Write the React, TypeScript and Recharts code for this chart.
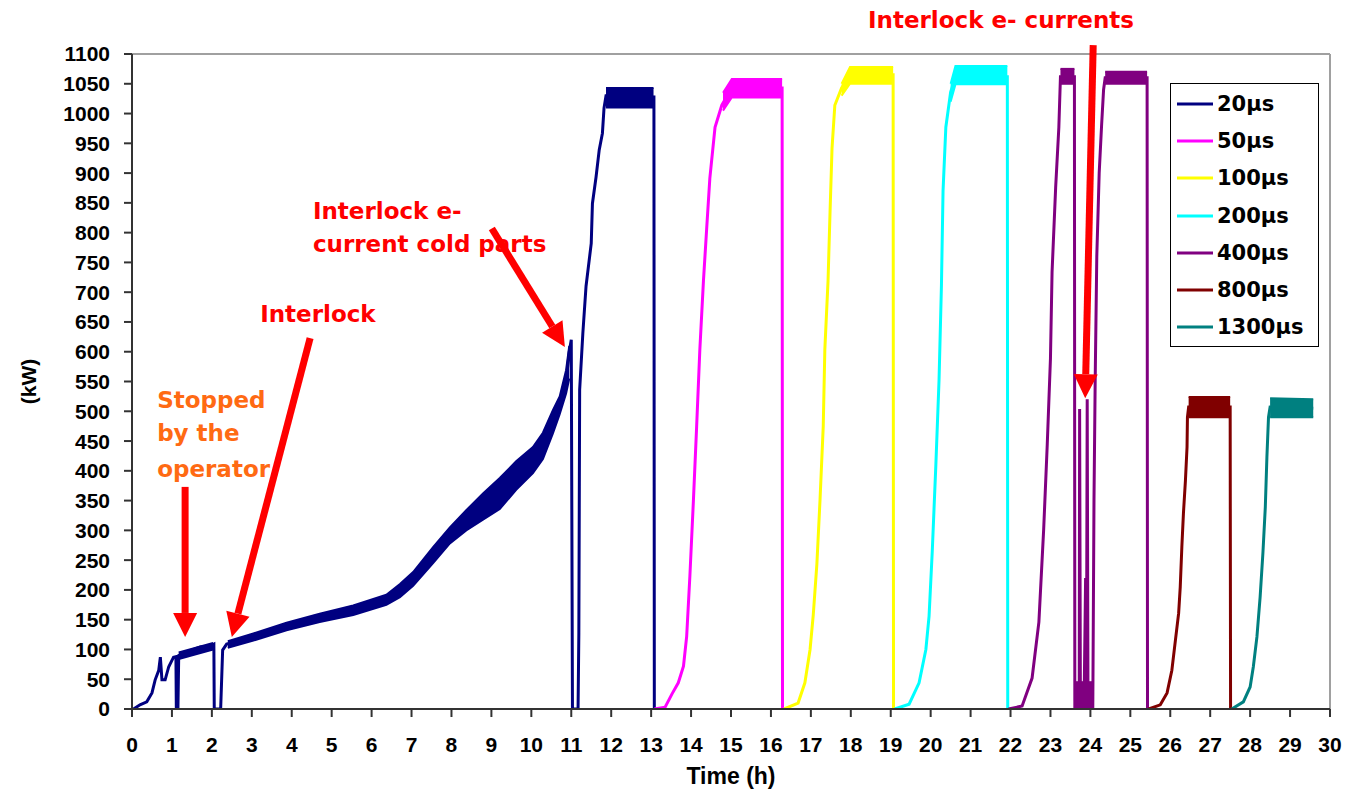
import {
  ComposedChart,
  Line,
  Area,
  XAxis,
  YAxis,
  Legend,
  ReferenceLine,
  ReferenceDot,
} from 'recharts';

// time (h) / power (kW) pairs
const s20: [number, number][] = [
  [0, 0], [0.04, 0], [0.2, 7], [0.37, 12], [0.5, 27], [0.58, 49], [0.67, 65], [0.71, 87],
  [0.75, 49], [0.83, 49], [0.92, 71], [1.04, 87], [1.1, 88], [1.11, 0], [1.15, 0], [1.17, 90],
  [1.37, 96], [1.71, 104], [1.96, 106], [2.05, 109], [2.06, 0], [2.22, 0], [2.27, 99], [2.37, 109],
  [3.04, 121], [3.87, 138], [4.7, 153], [5.54, 166], [6.37, 183], [6.71, 198], [7.04, 217],
  [7.21, 228], [7.54, 258], [7.96, 292], [8.37, 318], [8.79, 340], [9.21, 362], [9.62, 392],
  [10.04, 418], [10.29, 442], [10.54, 483], [10.71, 510], [10.87, 550], [10.95, 600], [11.0, 620],
  [11.03, 0], [11.17, 0], [11.19, 128], [11.21, 536], [11.29, 631], [11.37, 710], [11.5, 782],
  [11.53, 849], [11.62, 893], [11.7, 939], [11.78, 967], [11.82, 1009], [11.87, 1030],
  [13.07, 1028], [13.08, 0],
];
const s50: [number, number][] = [
  [13.08, 0], [13.35, 3], [13.52, 25], [13.68, 44], [13.81, 72], [13.89, 122], [13.97, 223],
  [14.06, 352], [14.14, 475], [14.22, 604], [14.31, 719], [14.39, 806], [14.47, 891], [14.6, 977],
  [14.77, 1014], [15.02, 1043], [16.28, 1043], [16.29, 0],
];
const s100: [number, number][] = [
  [16.33, 0], [16.68, 10], [16.85, 44], [16.98, 100], [17.06, 158], [17.15, 243], [17.23, 352],
  [17.31, 475], [17.35, 604], [17.43, 719], [17.48, 834], [17.53, 942], [17.6, 1014],
  [17.77, 1043], [17.98, 1065], [19.06, 1065], [19.07, 0],
];
const s200: [number, number][] = [
  [19.1, 0], [19.46, 8], [19.71, 44], [19.88, 100], [19.96, 156], [20.04, 265], [20.13, 410],
  [20.21, 553], [20.27, 712], [20.31, 870], [20.38, 977], [20.5, 1036], [20.62, 1062],
  [21.92, 1062], [21.93, 0],
];
const s400: [number, number][] = [
  [21.95, 0], [22.29, 5], [22.54, 52], [22.71, 146], [22.83, 302], [22.92, 445], [23.0, 589],
  [23.04, 734], [23.13, 876], [23.21, 977], [23.25, 1062], [23.6, 1062], [23.61, 0], [23.66, 40],
  [23.69, 0], [23.72, 0], [23.73, 504], [23.75, 0], [23.8, 30], [23.84, 0], [23.88, 220],
  [23.9, 0], [23.92, 520], [23.94, 0], [23.98, 40], [24.03, 0], [24.06, 0], [24.09, 352],
  [24.12, 553], [24.16, 760], [24.22, 900], [24.28, 980], [24.33, 1040], [24.37, 1060],
  [25.42, 1060], [25.43, 0],
];
const s800: [number, number][] = [
  [25.46, 0], [25.75, 7], [25.92, 27], [26.04, 65], [26.13, 116], [26.21, 161], [26.25, 205],
  [26.29, 272], [26.33, 329], [26.38, 384], [26.42, 440], [26.43, 490], [26.46, 507],
  [27.5, 507], [27.51, 0],
];
const s1300: [number, number][] = [
  [27.54, 0], [27.83, 12], [28.0, 37], [28.08, 71], [28.17, 121], [28.25, 188], [28.32, 262],
  [28.38, 339], [28.42, 423], [28.46, 490], [28.5, 507], [29.58, 505],
];

// noisy stretches: time, low, high
const band20a: [number, number, number][] = [[1.17, 84, 95], [2.03, 100, 111]];
const band20b: [number, number, number][] = [
  [2.4, 103, 114], [3.04, 115, 127], [3.87, 132, 145], [4.7, 146, 160], [5.54, 158, 174],
  [6.37, 175, 192], [6.71, 188, 210], [7.04, 207, 230], [7.54, 245, 272], [7.96, 278, 305],
  [8.37, 300, 334], [8.79, 318, 362], [9.21, 336, 388], [9.62, 368, 416], [10.04, 396, 440],
  [10.29, 420, 464], [10.54, 463, 502], [10.71, 495, 525], [10.87, 530, 569], [10.95, 555, 610],
];
const band20c: [number, number, number][] = [[11.87, 1010, 1043], [13.06, 1010, 1043]];
const band50: [number, number, number][] = [[14.8, 1005, 1035], [15.02, 1027, 1058], [16.28, 1027, 1058]];
const band100: [number, number, number][] = [[17.77, 1030, 1050], [17.98, 1050, 1078], [19.06, 1050, 1078]];
const band200: [number, number, number][] = [[20.5, 1020, 1050], [20.62, 1049, 1080], [21.92, 1049, 1080]];
const band400a: [number, number, number][] = [[23.25, 1050, 1075], [23.6, 1050, 1075]];
const band400b: [number, number, number][] = [[23.6, 0, 45], [24.05, 0, 45]];
const band400c: [number, number, number][] = [[24.37, 1050, 1070], [25.42, 1050, 1070]];
const band800: [number, number, number][] = [[26.46, 490, 524], [27.5, 490, 524]];
const band1300: [number, number, number][] = [[28.5, 490, 522], [29.58, 490, 520]];

const seriesNames = ['20µs', '50µs', '100µs', '200µs', '400µs', '800µs', '1300µs'];
const seriesColors = ['#000080', '#FF00FF', '#FFFF00', '#00FFFF', '#800080', '#800000', '#008080'];
const seriesPoints = [s20, s50, s100, s200, s400, s800, s1300];
const seriesBands = [
  [band20a, band20b, band20c], [band50], [band100], [band200],
  [band400a, band400b, band400c], [band800], [band1300],
];

const timeTicks = [0, 1, 2, 3, 4, 5, 6, 7, 8, 9, 10, 11, 12, 13, 14, 15, 16, 17, 18, 19, 20, 21, 22, 23, 24, 25, 26, 27, 28, 29, 30];
const powerTicks = [0, 50, 100, 150, 200, 250, 300, 350, 400, 450, 500, 550, 600, 650, 700, 750, 800, 850, 900, 950, 1000, 1050, 1100];

// annotations (data coordinates)
const noteTexts = ['Interlock e- currents', 'Interlock e-', 'current cold parts', 'Interlock', 'Stopped', 'by the', 'operator'];
const noteTimes = [18.43, 4.53, 4.53, 3.21, 0.63, 0.63, 0.63];
const notePowers = [1144, 823, 768, 650, 506, 450, 390];
const noteColors = ['#FF0000', '#FF0000', '#FF0000', '#FF0000', '#FF6A13', '#FF6A13', '#FF6A13'];

const arrows: [number, number, number, number][] = [
  [1.33, 373, 1.33, 121],
  [4.46, 623, 2.5, 121],
  [9.01, 807, 10.84, 608],
  [24.07, 1115, 23.87, 522],
];

const toRows = (pts: [number, number][]) => pts.map(([t, kw]) => ({ t, kw }));
const toBandRows = (pts: [number, number, number][]) => pts.map(([t, lo, hi]) => ({ t, range: [lo, hi] }));

const tickFont = { fill: '#000', fontSize: 21, fontWeight: 'bold', fontFamily: '"Liberation Sans", Arial, sans-serif' };
const noteFont = '"DejaVu Sans", Verdana, sans-serif';

const ArrowShape = (p: any) => {
  const { x1, y1, x2, y2 } = p;
  const dx = x2 - x1;
  const dy = y2 - y1;
  const len = Math.hypot(dx, dy) || 1;
  const ux = dx / len;
  const uy = dy / len;
  const head = 24;
  const half = 12;
  const bx = x2 - ux * head;
  const by = y2 - uy * head;
  return (
    <g>
      <line x1={x1} y1={y1} x2={bx} y2={by} stroke="#FF0000" strokeWidth={7} />
      <polygon
        points={`${x2},${y2} ${bx - uy * half},${by + ux * half} ${bx + uy * half},${by - ux * half}`}
        fill="#FF0000"
      />
    </g>
  );
};

const renderLegend = () => (
  <div
    style={{
      border: '1.5px solid #000',
      background: '#fff',
      width: 149,
      height: 264,
      boxSizing: 'border-box',
      paddingTop: 1,
    }}
  >
    {seriesNames.map((name, i) => (
      <div key={name} style={{ display: 'flex', alignItems: 'center', height: 37.3 }}>
        <svg width={45} height={10} style={{ display: 'block' }}>
          <line x1={6} x2={42} y1={5} y2={5} stroke={seriesColors[i]} strokeWidth={3} />
        </svg>
        <span style={{ fontFamily: noteFont, fontWeight: 'bold', fontSize: 21, marginLeft: 1, color: '#000' }}>
          {name}
        </span>
      </div>
    ))}
  </div>
);

const YLabel = (props: any) => {
  const { viewBox } = props;
  const cx = 28;
  const cy = viewBox.y + viewBox.height / 2;
  return (
    <text
      x={cx}
      y={cy}
      transform={`rotate(-90, ${cx}, ${cy})`}
      textAnchor="middle"
      dominantBaseline="central"
      style={{ fontSize: 21, fontWeight: 'bold', fontFamily: '"Liberation Sans", Arial, sans-serif', fill: '#000' }}
    >
      (kW)
    </text>
  );
};

export default function App() {
  return (
    <div style={{ position: 'relative', width: 1350, height: 792, background: '#fff' }}>
      <style>{'body{margin:0;background:#fff}'}</style>
      <ComposedChart width={1350} height={792} margin={{ top: 54, right: 20, bottom: 0, left: 0 }}>
        <XAxis
          dataKey="t"
          type="number"
          domain={[0, 30]}
          ticks={timeTicks}
          interval={0}
          allowDataOverflow
          height={83}
          tickSize={8}
          tickMargin={20}
          tick={tickFont}
          axisLine={{ stroke: '#333', strokeWidth: 2 }}
          tickLine={{ stroke: '#333', strokeWidth: 2 }}
          label={{
            value: 'Time (h)',
            position: 'insideBottom',
            offset: 8,
            style: { fontSize: 23, fontWeight: 'bold', fontFamily: '"Liberation Sans", Arial, sans-serif', fill: '#000' },
          }}
        />
        <YAxis
          type="number"
          domain={[0, 1100]}
          ticks={powerTicks}
          interval={0}
          allowDataOverflow
          width={132}
          tickSize={8}
          tickMargin={14}
          tick={tickFont}
          axisLine={{ stroke: '#333', strokeWidth: 2 }}
          tickLine={{ stroke: '#333', strokeWidth: 2 }}
          label={<YLabel />}
        />
        <ReferenceLine y={1100} stroke="#a0a0a0" strokeWidth={2} />
        <ReferenceLine x={30} stroke="#a0a0a0" strokeWidth={2} />
        {seriesBands.map((bands, i) =>
          bands.map((b, j) => (
            <Area
              key={`band-${i}-${j}`}
              data={toBandRows(b)}
              dataKey="range"
              type="linear"
              stroke={seriesColors[i]}
              strokeWidth={2}
              fill={seriesColors[i]}
              fillOpacity={1}
              dot={false}
              activeDot={false}
              legendType="none"
              isAnimationActive={false}
            />
          )),
        )}
        {seriesPoints.map((pts, i) => (
          <Line
            key={seriesNames[i]}
            name={seriesNames[i]}
            data={toRows(pts)}
            dataKey="kw"
            type="linear"
            stroke={seriesColors[i]}
            strokeWidth={3}
            dot={false}
            activeDot={false}
            isAnimationActive={false}
          />
        ))}
        {arrows.map(([t1, k1, t2, k2], i) => (
          <ReferenceLine
            key={`arrow-${i}`}
            segment={[{ x: t1, y: k1 }, { x: t2, y: k2 }]}
            ifOverflow="visible"
            shape={ArrowShape}
          />
        ))}
        {noteTexts.map((text, i) => (
          <ReferenceDot
            key={`note-${i}`}
            x={noteTimes[i]}
            y={notePowers[i]}
            r={0}
            ifOverflow="visible"
            shape={(p: any) => (
              <text
                x={p.cx}
                y={p.cy}
                fill={noteColors[i]}
                style={{ fontFamily: noteFont, fontWeight: 'bold', fontSize: 23 }}
              >
                {text}
              </text>
            )}
          />
        ))}
        <Legend
          layout="vertical"
          align="center"
          verticalAlign="middle"
          content={renderLegend}
          wrapperStyle={{ left: 1170, top: 83, width: 149, height: 264 }}
        />
      </ComposedChart>
    </div>
  );
}
